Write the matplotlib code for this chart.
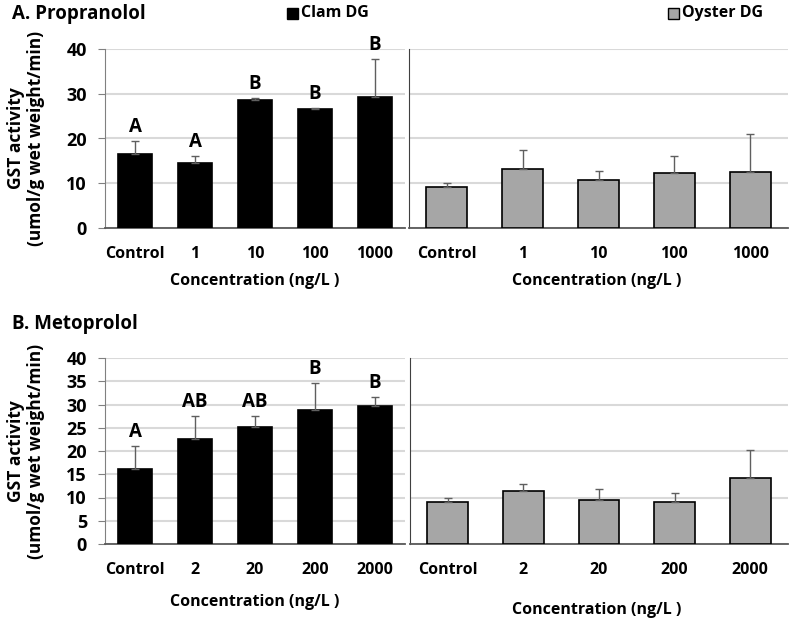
import matplotlib
matplotlib.use("Agg")
import matplotlib.pyplot as plt
import numpy as np

plt.rcParams['font.family'] = ['Open Sans', 'DejaVu Sans']
plt.rcParams['font.weight'] = 'bold'

# ---------------------------
# data
# ---------------------------
cats_a = ["Control", "1", "10", "100", "1000"]
clam_a = [16.6, 14.6, 28.7, 26.6, 29.3]
clam_a_err = [2.9, 1.6, 0.4, 0.2, 8.5]
oyster_a = [9.2, 13.2, 10.7, 12.3, 12.6]
oyster_a_err = [0.9, 4.2, 2.0, 3.9, 8.4]
letters_a = ["A", "A", "B", "B", "B"]

cats_b = ["Control", "2", "20", "200", "2000"]
clam_b = [16.1, 22.6, 25.1, 28.9, 29.6]
clam_b_err = [5.0, 5.0, 2.5, 5.7, 2.1]
oyster_b = [9.1, 11.4, 9.5, 9.0, 14.1]
oyster_b_err = [0.8, 1.6, 2.4, 2.0, 6.1]
letters_b = ["A", "AB", "AB", "B", "B"]

BLACK = "#000000"
GRAY = "#a6a6a6"
GRID = "#d9d9d9"
ERR = "#5f5f5f"

fig = plt.figure(figsize=(8, 6.2), dpi=100)


def px(l, t, r, b):
    return [l / 800, 1 - b / 620, (r - l) / 800, (b - t) / 620]


def draw(ax, cats, vals, errs, color, width, yticks, letters=None, ylabels=True):
    x = np.arange(len(cats))
    ax.bar(x, vals, width=width, color=color, edgecolor="black", linewidth=1.2, zorder=3)
    ax.errorbar(x, vals, yerr=[np.zeros(len(vals)), errs], fmt="none",
                ecolor=ERR, elinewidth=1.0, capsize=3, capthick=1.0, zorder=4)
    ax.set_xlim(-0.5, len(cats) - 0.5)
    ax.set_ylim(0, 40)
    ax.set_yticks(yticks)
    ax.yaxis.grid(True, color=GRID, linewidth=1.5, zorder=0)
    ax.set_axisbelow(True)
    ax.set_xticks(x)
    ax.set_xticklabels(cats, fontsize=11.5, fontweight="bold")
    ax.tick_params(axis="x", length=0, pad=13)
    for s in ["top", "right"]:
        ax.spines[s].set_visible(False)
    ax.spines["bottom"].set_color("#595959")
    ax.spines["bottom"].set_linewidth(1.3)
    if ylabels:
        ax.spines["left"].set_color("#808080")
        ax.tick_params(axis="y", length=5, color="#808080", labelsize=13, pad=8)
        for t in ax.get_yticklabels():
            t.set_fontweight("bold")
    else:
        ax.spines["left"].set_color("#404040")
        ax.tick_params(axis="y", length=0, labelleft=False)
    if letters:
        for i, (v, e, s) in enumerate(zip(vals, errs, letters)):
            ax.text(i, v + e + 0.8, s, ha="center", va="bottom", fontsize=13.5, fontweight="bold")


# Panel A
ax1 = fig.add_axes(px(105, 49, 405, 228))
draw(ax1, cats_a, clam_a, clam_a_err, BLACK, 0.57, np.arange(0, 41, 10), letters_a)
ax2 = fig.add_axes(px(409, 49, 788, 228))
draw(ax2, cats_a, oyster_a, oyster_a_err, GRAY, 0.54, np.arange(0, 41, 10), ylabels=False)

# Panel B
ax3 = fig.add_axes(px(105, 358, 405, 544))
draw(ax3, cats_b, clam_b, clam_b_err, BLACK, 0.57, np.arange(0, 41, 5), letters_b)
ax4 = fig.add_axes(px(410, 358, 788, 544))
draw(ax4, cats_b, oyster_b, oyster_b_err, GRAY, 0.54, np.arange(0, 41, 10), ylabels=False)

# axis labels
for ax in [ax1, ax3]:
    ax.set_ylabel("GST activity\n(umol/g wet weight/min)", fontsize=12.5,
                  fontweight="bold", labelpad=15, linespacing=1.15)
xl = dict(ha="center", va="center", fontsize=11.5, fontweight="bold")
fig.text(255 / 800, 1 - 281 / 620, "Concentration (ng/L )", **xl)
fig.text(597 / 800, 1 - 281 / 620, "Concentration (ng/L )", **xl)
fig.text(255 / 800, 1 - 602 / 620, "Concentration (ng/L )", **xl)
fig.text(597 / 800, 1 - 610 / 620, "Concentration (ng/L )", **xl)

# panel titles
fig.text(12 / 800, 1 - 14 / 620, "A. Propranolol", ha="left", va="center", fontsize=13.5, fontweight="bold")
fig.text(12 / 800, 1 - 324 / 620, "B. Metoprolol", ha="left", va="center", fontsize=13.5, fontweight="bold")

# legend entries
fig.patches.append(plt.Rectangle((287 / 800, 1 - 19 / 620), 11 / 800, 11 / 620, transform=fig.transFigure,
                                 facecolor=BLACK, edgecolor="black", linewidth=1))
fig.text(301 / 800, 1 - 13 / 620, "Clam DG", ha="left", va="center", fontsize=11.5, fontweight="bold")
fig.patches.append(plt.Rectangle((668 / 800, 1 - 19 / 620), 11 / 800, 11 / 620, transform=fig.transFigure,
                                 facecolor=GRAY, edgecolor="black", linewidth=1))
fig.text(682 / 800, 1 - 13 / 620, "Oyster DG", ha="left", va="center", fontsize=11.5, fontweight="bold")

fig.savefig("out.png", dpi=100)
